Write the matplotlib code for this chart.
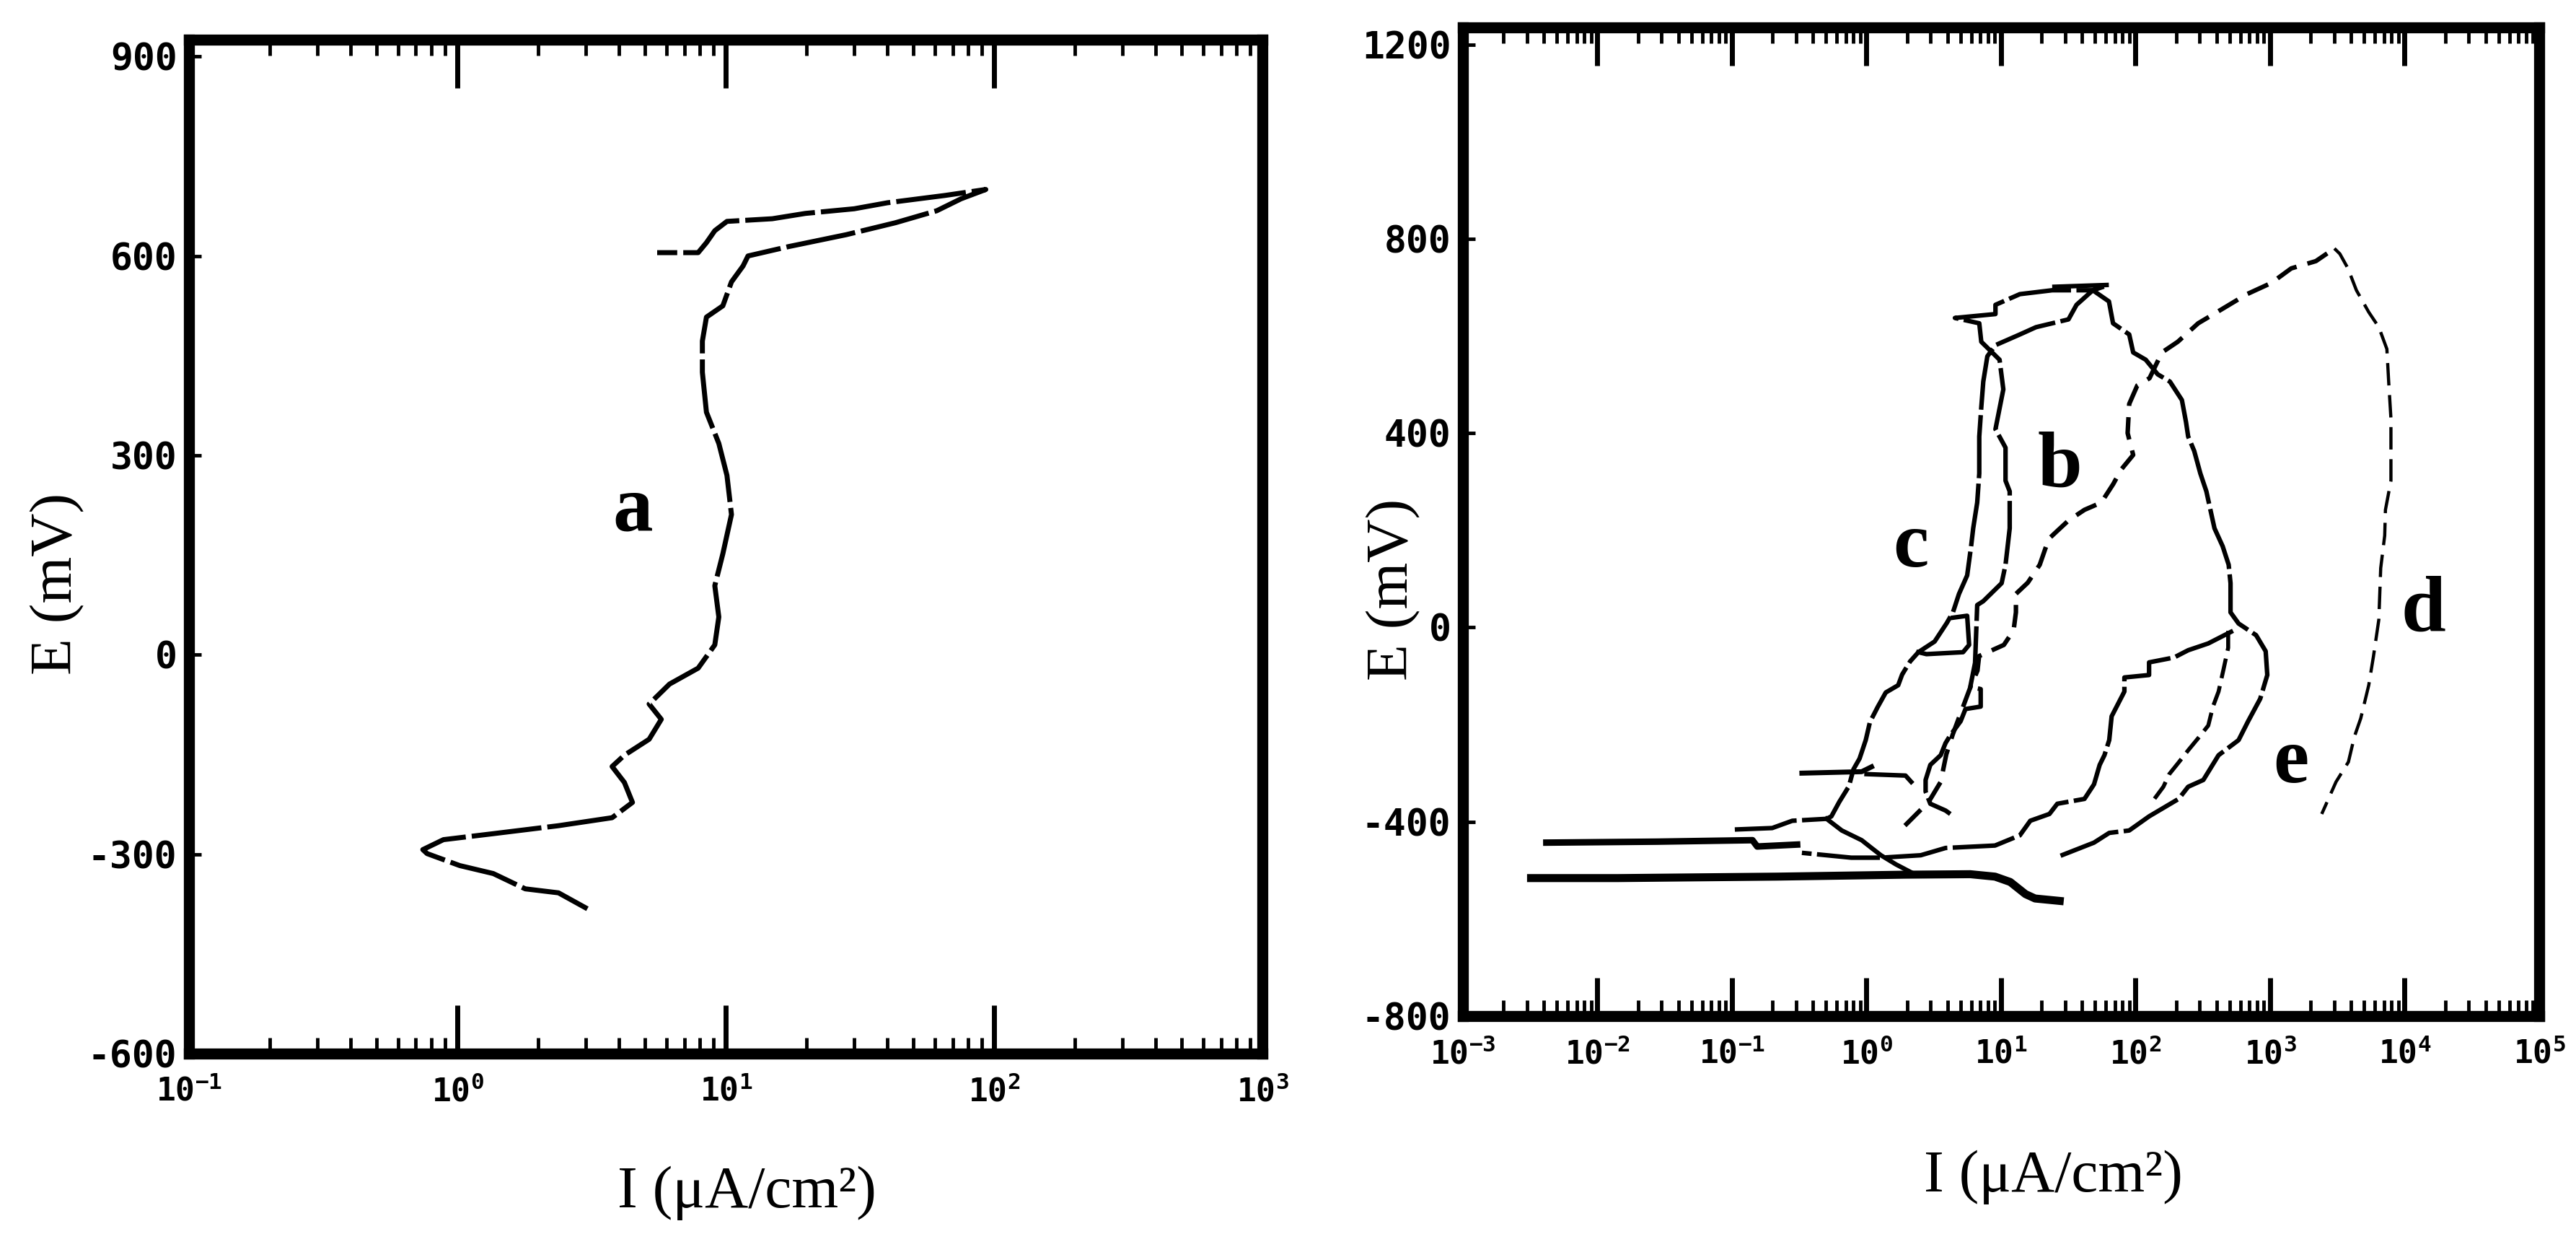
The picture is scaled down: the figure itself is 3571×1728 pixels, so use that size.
import matplotlib
matplotlib.use("Agg")
from matplotlib import pyplot as plt
from matplotlib.ticker import LogLocator, NullFormatter

# ---- left panel: curve a  (I in uA/cm2, E in mV)
a_i = [3.05, 2.38, 1.79, 1.36, 1.02, 0.771, 0.743, 0.887, 1.36, 2.38, 3.77, 4.49, 4.19, 3.77, 4.19,
       5.18, 5.75, 5.18, 6.17, 7.89, 9.10, 9.42, 9.10, 9.75, 10.5, 10.1, 9.42, 8.47, 8.18, 8.18,
       8.47, 9.75, 10.5, 11.6, 12.1, 17.1, 28.1, 42.9, 61.1, 75.3, 93.1, 65.5, 40.0, 30.1, 19.8,
       14.9, 10.1, 9.10, 8.47, 7.89, 5.55]
a_e = [-382, -358, -352, -329, -317, -299, -293, -278, -269, -257, -245, -222, -192, -168, -151,
       -127, -97, -74, -44, -20, 15, 57, 104, 152, 211, 270, 318, 365, 425, 472,
       508, 525, 561, 585, 600, 614, 632, 650, 668, 686, 700, 691, 680, 671, 664,
       656, 652, 638, 620, 605, 605]

# ---- right panel
b_i = [1.93, 2.90, 3.56, 3.92, 4.38, 5.99, 6.68, 6.87, 10.5, 12.4, 12.9, 12.9, 15.8, 19.4, 22.6,
       25.8, 31.7, 41.7, 55.6, 68.2, 78.2, 96.0, 87.3, 89.7, 103, 127, 157, 206, 292, 444,
       673, 1021, 1436, 2190, 3006]
b_e = [-408, -359, -318, -261, -220, -119, -89, -59, -36, -6, 31, 69, 92, 129, 182,
       197, 220, 242, 257, 295, 325, 355, 400, 460, 498, 513, 566, 588, 626, 656,
       686, 709, 739, 754, 780]

d_i = [3006, 3300, 3790, 4380, 5410, 6430, 7380, 7610, 7910, 7910, 7200, 7110, 6640, 6430, 5870,
       5410, 4720, 4230, 3820, 3090, 2420]
d_e = [780, 769, 739, 694, 649, 618, 573, 506, 430, 302, 242, 189, 122, 16, -59,
       -119, -187, -225, -277, -318, -384]

c_i = [0.105, 0.199, 0.281, 0.505, 0.548, 0.628, 0.740, 0.800, 0.888, 0.987, 1.06, 1.21, 1.39, 1.72,
       1.84, 2.11, 2.43, 3.21, 3.95, 4.39, 4.87, 5.60, 5.99, 6.21, 6.65, 6.89, 6.89, 7.13, 7.38, 7.91,
       9.09, 13.8, 18.2, 31.7, 36.4, 48.1, 24.0, 13.8, 9.09, 9.09, 4.54, 6.89, 7.13,
       9.75, 10.4, 9.09, 10.8, 10.8, 11.6, 11.6, 10.8, 10.1, 7.38, 6.65,
       6.41, 5.91, 7.06, 7.06, 5.44, 5.01, 4.20, 3.87, 3.56, 2.98, 2.75, 2.75, 2.98, 3.87, 4.20]
c_e = [-416, -413, -398, -394, -389, -359, -327, -292, -270, -232, -195, -164, -134, -119,
       -97, -70, -51, -29, 9, 31, 69, 107, 167, 204, 257, 317, 393, 453, 506, 558,
       581, 603, 618, 634, 664, 694, 694, 686, 664, 645, 637, 626, 588,
       551, 490, 408, 370, 302, 280, 204, 129, 91, 54, 46,
       -73, -122, -127, -163, -168, -193, -222, -238, -263, -283, -314, -338, -363, -377, -384]
c_tri_i = [4.39, 5.60, 5.79, 5.22, 2.79, 2.43]
c_tri_e = [20, 24, -36, -51, -55, -51]

e_i = [27.7, 49.1, 63.7, 89.7, 126, 209, 246, 319, 414, 583, 687, 844, 953, 927, 787, 583, 508, 508,
       492, 444, 386, 360, 336, 303, 273, 246, 237, 221, 180, 146, 119, 96.0, 89.7, 68.0, 63.4,
       48.1, 63.4, 24.0]
e_e = [-470, -443, -423, -418, -389, -353, -328, -314, -263, -232, -193, -147, -98, -49, -16, 8, 31, 91,
       129, 167, 204, 242, 280, 317, 363, 393, 423, 468, 506, 521, 551, 566, 603, 626, 671,
       694, 705, 701]
e2_i = [488, 488, 450, 414, 376, 347, 294, 246, 209, 178, 161, 133]
e2_e = [-7, -42, -87, -132, -163, -202, -227, -253, -278, -302, -328, -359]
e3_i = [530, 347, 246, 193, 126, 126, 82.6, 82.6, 66.4, 63.7, 58.7, 54.1, 49.1, 41.7, 26.2, 22.9,
        16.5, 13.8, 9.02, 3.87, 2.53, 1.28, 0.771, 0.331]
e3_e = [-7, -33, -47, -62, -72, -98, -103, -132, -183, -232, -263, -283, -323, -353, -363, -384,
        -398, -428, -449, -454, -469, -474, -474, -464]

# cathodic branches near the bottom
low1_i = [0.00321, 0.0141, 0.216, 1.93, 5.91, 9.02, 11.7, 15.2, 17.9, 27.3]
low1_e = [-516, -516, -513, -509, -508, -513, -524, -549, -558, -563]
low2_i = [0.00417, 0.0279, 0.142, 0.154, 0.305]
low2_e = [-443, -441, -438, -451, -447]
diag_i = [0.505, 0.655, 0.921, 1.09, 1.28, 1.66, 2.21]
diag_e = [-394, -418, -438, -454, -469, -488, -506]
h1_i = [0.331, 0.921, 1.09]
h1_e = [-300, -297, -287]
h2_i = [1.0, 1.95, 2.15]
h2_e = [-302, -305, -318]

# curve letters (position in data units)
lab1 = [("a", 4.49, 217)]
lab2 = [("b", 27.3, 330), ("c", 2.13, 165), ("d", 13800, 33), ("e", 1426, -278)]

x1_ticks = [1e-1, 1e0, 1e1, 1e2, 1e3]
x1_labels = [r"$10^{-1}$", r"$10^{0}$", r"$10^{1}$", r"$10^{2}$", r"$10^{3}$"]
y1_ticks = [-600, -300, 0, 300, 600, 900]
x2_ticks = [1e-3, 1e-2, 1e-1, 1e0, 1e1, 1e2, 1e3, 1e4, 1e5]
x2_labels = [r"$10^{-3}$", r"$10^{-2}$", r"$10^{-1}$", r"$10^{0}$", r"$10^{1}$",
             r"$10^{2}$", r"$10^{3}$", r"$10^{4}$", r"$10^{5}$"]
y2_ticks = [-800, -400, 0, 400, 800, 1200]

plt.rcParams["mathtext.fontset"] = "custom"
plt.rcParams["mathtext.rm"] = "DejaVu Sans Mono:bold"
plt.rcParams["mathtext.it"] = "DejaVu Sans Mono:bold"
plt.rcParams["mathtext.bf"] = "DejaVu Sans Mono:bold"

SERIF = "Liberation Serif"

fig = plt.figure(figsize=(35.71, 17.28), dpi=100)
ax1 = fig.add_axes([0.0734, 0.155, 0.4167, 0.813])
ax2 = fig.add_axes([0.5679, 0.1852, 0.4178, 0.7928])


def setup(ax, xlim, ylim, xt, xl, yt, tlen):
    ax.set_xscale("log")
    ax.set_xlim(*xlim)
    ax.set_ylim(*ylim)
    ax.set_xticks(xt)
    ax.set_xticklabels(xl)
    ax.xaxis.set_minor_locator(LogLocator(base=10, subs=range(2, 10), numticks=50))
    ax.xaxis.set_minor_formatter(NullFormatter())
    ax.set_yticks(yt)
    ax.set_yticklabels([str(v) for v in yt], fontfamily="DejaVu Sans Mono", fontweight="bold")
    ax.tick_params(axis="x", which="major", direction="in", top=True, bottom=True,
                   length=tlen, width=5, labelsize=32, pad=22)
    ax.tick_params(axis="x", which="minor", direction="in", top=True, bottom=True,
                   length=16, width=3.5)
    ax.tick_params(axis="y", which="major", direction="in", length=12, width=3.5,
                   labelsize=37, pad=12)
    for s in ax.spines.values():
        s.set_linewidth(11)


setup(ax1, (1e-1, 1e3), (-600, 925), x1_ticks, x1_labels, y1_ticks, 48)
setup(ax2, (1e-3, 1e5), (-800, 1235), x2_ticks, x2_labels, y2_ticks, 38)

ax1.plot(a_i, a_e, color="black", lw=5, dashes=(14, 1.2))

ax2.plot(low1_i, low1_e, color="black", lw=8)
ax2.plot(low2_i, low2_e, color="black", lw=6.5)
ax2.plot(diag_i, diag_e, color="black", lw=4.5)
ax2.plot(h1_i, h1_e, color="black", lw=5)
ax2.plot(h2_i, h2_e, color="black", lw=4.5)
ax2.plot(c_i, c_e, color="black", lw=4.5, dashes=(14, 1.2))
ax2.plot(c_tri_i, c_tri_e, color="black", lw=4.5)
ax2.plot(b_i, b_e, color="black", lw=4.5, dashes=(5, 2.5))
ax2.plot(d_i, d_e, color="black", lw=3.2, dashes=(7, 3))
ax2.plot(e_i, e_e, color="black", lw=4.5, dashes=(14, 1.2))
ax2.plot(e2_i, e2_e, color="black", lw=4, dashes=(5, 2))
ax2.plot(e3_i, e3_e, color="black", lw=4.5, dashes=(14, 1.2))

for t, x, y in lab1:
    ax1.text(x, y, t, fontsize=80, fontweight="bold", fontfamily=SERIF, ha="center", va="center")
for t, x, y in lab2:
    ax2.text(x, y, t, fontsize=80, fontweight="bold", fontfamily=SERIF, ha="center", va="center")

fig.text(0.29, 0.043, "I (μA/cm²)", fontsize=60, fontfamily=SERIF, ha="center", va="center")
fig.text(0.797, 0.056, "I (μA/cm²)", fontsize=60, fontfamily=SERIF, ha="center", va="center")
fig.text(0.0224, 0.532, "E (mV)", fontsize=60, fontfamily=SERIF, rotation=90, ha="center", va="center")
fig.text(0.541, 0.527, "E (mV)", fontsize=60, fontfamily=SERIF, rotation=90, ha="center", va="center")

fig.savefig("out.png", dpi=100, facecolor="white")
